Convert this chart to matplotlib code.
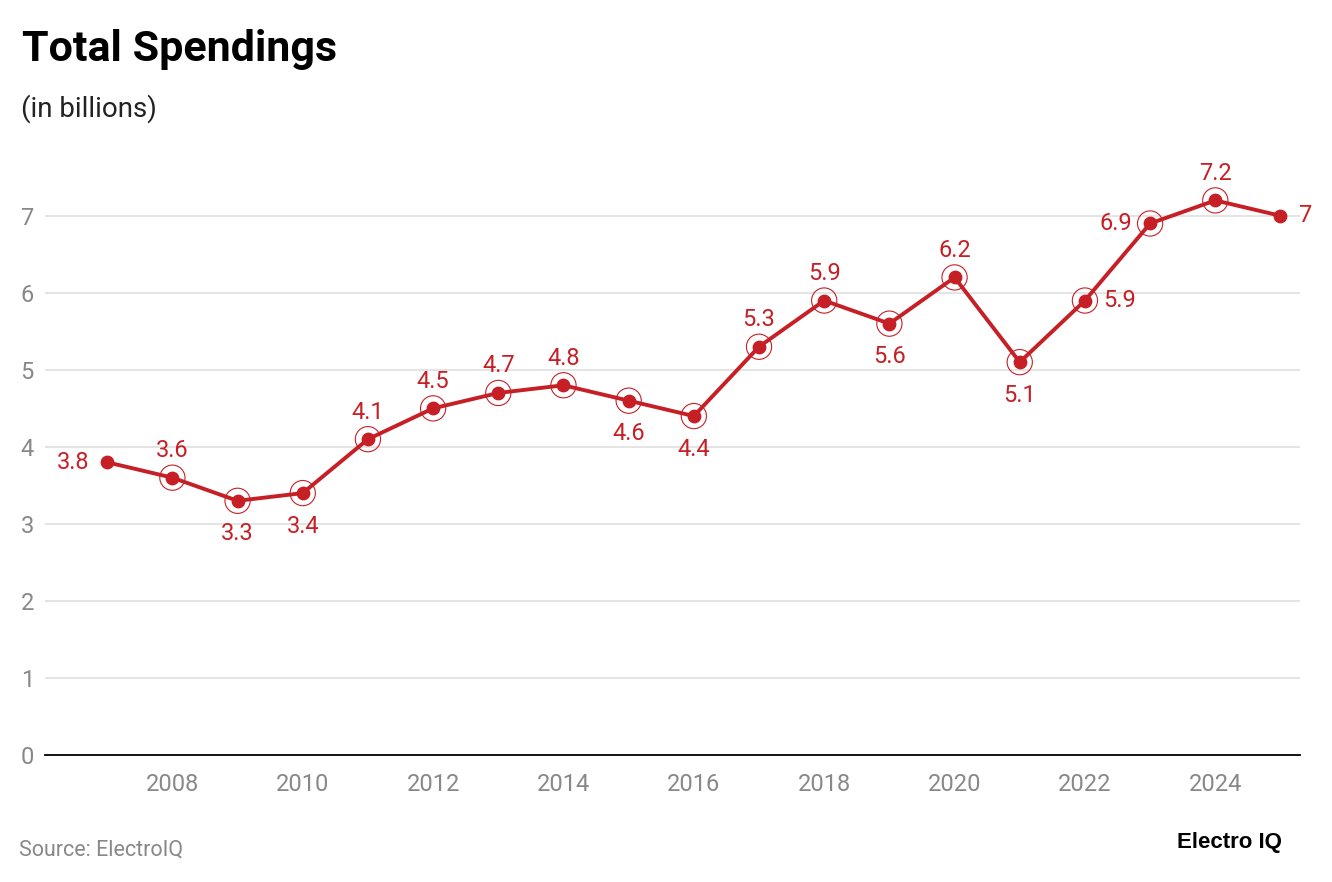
import matplotlib.pyplot as plt

plt.rcParams['font.family'] = ['Roboto', 'DejaVu Sans']

years = [2007, 2008, 2009, 2010, 2011, 2012, 2013, 2014, 2015, 2016,
         2017, 2018, 2019, 2020, 2021, 2022, 2023, 2024, 2025]
spend = [3.8, 3.6, 3.3, 3.4, 4.1, 4.5, 4.7, 4.8, 4.6, 4.4,
         5.3, 5.9, 5.6, 6.2, 5.1, 5.9, 6.9, 7.2, 7]
xticks = [2008, 2010, 2012, 2014, 2016, 2018, 2020, 2022, 2024]
yticks = [0, 1, 2, 3, 4, 5, 6, 7]

# where each value label sits relative to its point
place = ["left", "up", "down", "down", "up", "up", "up", "up", "down", "down",
         "up", "up", "down", "up", "down", "right", "left", "up", "right"]
offs = {"up": (0, 27), "down": (0, -33), "left": (-18, 0), "right": (18, 0)}

red = "#c62026"
grey = "#888888"

fig = plt.figure(figsize=(13.32, 8.82), dpi=100)
ax = fig.add_axes([0.034, 0.144, 0.942, 0.655])

ax.plot(years, spend, color=red, lw=2.8, zorder=3, solid_capstyle="round")
ax.scatter(years, spend, s=80, color=red, zorder=4)
ax.scatter(years[1:-1], spend[1:-1], s=330, facecolors="none",
           edgecolors=red, linewidths=0.8, zorder=4)

for x, y, p in zip(years, spend, place):
    dx, dy = offs[p]
    ha = {"up": "center", "down": "center", "left": "right", "right": "left"}[p]
    ax.annotate("%g" % y, (x, y), xytext=(dx, dy), textcoords="offset pixels",
                ha=ha, va="center", color=red, fontsize=17, zorder=5)

ax.set_xlim(2006.05, 2025.3)
ax.set_ylim(0, 7.5)
ax.set_xticks(xticks)
ax.set_yticks(yticks)
ax.tick_params(length=0, labelsize=17, colors=grey)
ax.tick_params(axis="x", pad=13)
ax.tick_params(axis="y", pad=13)
for lab in ax.get_yticklabels():
    lab.set_horizontalalignment("center")
ax.grid(axis="y", color="#e2e2e2", lw=1.3)
ax.set_axisbelow(True)
for s in ["top", "right", "left"]:
    ax.spines[s].set_visible(False)
ax.spines["bottom"].set_color("black")
ax.spines["bottom"].set_linewidth(1.3)
ax.spines["bottom"].set_zorder(2)

fig.text(0.0165, 0.944, "Total Spendings", fontsize=31, fontweight="bold",
         va="center", ha="left")
fig.text(0.0155, 0.877, "(in billions)", fontsize=20, va="center", ha="left",
         color="#222222")
fig.text(0.0145, 0.036, "Source: ElectroIQ", fontsize=15.5, color=grey,
         va="center", ha="left")
fig.text(0.962, 0.045, "Electro IQ", fontsize=16, fontweight="bold",
         va="center", ha="right", family=["Liberation Sans", "DejaVu Sans"])

fig.savefig("out.png", dpi=100)
